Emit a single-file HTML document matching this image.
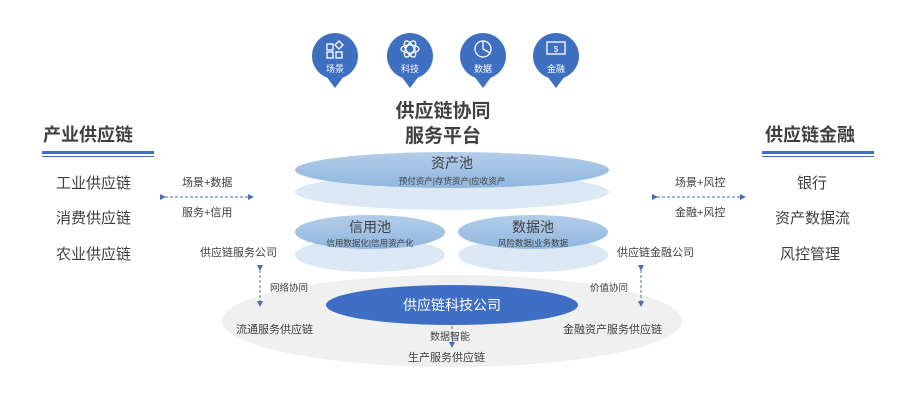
<!DOCTYPE html>
<html><head><meta charset="utf-8"><style>
body{margin:0;width:918px;height:403px;background:#fff;overflow:hidden;font-family:"Liberation Sans","Noto Sans CJK SC",sans-serif;}
svg text{font-family:"Liberation Sans","Noto Sans CJK SC",sans-serif;}
</style></head><body>
<svg width="918" height="403" viewBox="0 0 918 403">
<defs>
<linearGradient id="g1" x1="0" y1="0" x2="0" y2="1"><stop offset="0" stop-color="#b3cde9"/><stop offset="1" stop-color="#90b7e0"/></linearGradient>
<marker id="ar" markerWidth="6" markerHeight="6" refX="5" refY="3" orient="auto"><path d="M0,0 L6,3 L0,6z" fill="#4a6fb5"/></marker>
</defs>
<!-- pins -->
<g fill="#3f6fc0">
<g transform="translate(335,56)"><circle r="23"/><path d="M-9,20 L0,32 L9,20z"/></g>
<g transform="translate(410,56)"><circle r="23"/><path d="M-9,20 L0,32 L9,20z"/></g>
<g transform="translate(483,56)"><circle r="23"/><path d="M-9,20 L0,32 L9,20z"/></g>
<g transform="translate(556,56)"><circle r="23"/><path d="M-9,20 L0,32 L9,20z"/></g>
</g>
<g stroke="#fff" fill="none" stroke-width="1.3">
<rect x="327" y="44" width="6" height="6"/><rect x="327" y="52" width="6" height="6"/><rect x="336" y="52" width="6" height="6"/><path d="M339,41 L343,45 L339,49 L335,45z"/>
<ellipse cx="410" cy="49" rx="9" ry="4"/><ellipse cx="410" cy="49" rx="9" ry="4" transform="rotate(60 410 49)"/><ellipse cx="410" cy="49" rx="9" ry="4" transform="rotate(-60 410 49)"/>
<circle cx="483" cy="49" r="8"/><path d="M483,41 L483,49 L490,53"/>
<rect x="547" y="42" width="18" height="12"/>
</g>
<text x="556" y="52" font-size="8" fill="#fff" text-anchor="middle">$</text>
<g font-size="9" fill="#fff" text-anchor="middle">
<text x="335" y="72">场景</text><text x="410" y="72">科技</text><text x="483" y="72">数据</text><text x="556" y="72">金融</text>
</g>
<g font-size="19" font-weight="bold" fill="#404040" text-anchor="middle">
<text x="443" y="117">供应链协同</text><text x="443" y="142">服务平台</text>
</g>
<!-- pools -->
<ellipse cx="452" cy="192" rx="157" ry="18" fill="#dde8f5"/>
<ellipse cx="452" cy="170" rx="157" ry="18" fill="url(#g1)"/>
<text x="452" y="168" font-size="14" fill="#404040" text-anchor="middle">资产池</text>
<text x="452" y="184" font-size="8.5" fill="#404040" text-anchor="middle">预付资产|存货资产|应收资产</text>
<ellipse cx="452" cy="321" rx="230" ry="46" fill="#f0f0f0"/>
<ellipse cx="370" cy="255" rx="75" ry="17" fill="#dde8f5"/>
<ellipse cx="370" cy="232" rx="75" ry="17" fill="url(#g1)"/>
<ellipse cx="533" cy="255" rx="75" ry="17" fill="#dde8f5"/>
<ellipse cx="533" cy="232" rx="75" ry="17" fill="url(#g1)"/>
<text x="370" y="232" font-size="14" fill="#404040" text-anchor="middle">信用池</text>
<text x="370" y="246" font-size="8.5" fill="#404040" text-anchor="middle">信用数据化|信用资产化</text>
<text x="533" y="232" font-size="14" fill="#404040" text-anchor="middle">数据池</text>
<text x="533" y="246" font-size="8.5" fill="#404040" text-anchor="middle">风险数据|业务数据</text>
<ellipse cx="452" cy="305" rx="126" ry="20" fill="#3f6fc4"/>
<text x="452" y="310" font-size="14" fill="#fff" text-anchor="middle">供应链科技公司</text>
<!-- side headings -->
<g font-size="18" font-weight="bold" fill="#404040">
<text x="43" y="141">产业供应链</text><text x="765" y="141">供应链金融</text>
</g>
<g fill="#3f6fc0"><rect x="42" y="151" width="112" height="3"/><rect x="42" y="156" width="112" height="1"/>
<rect x="762" y="151" width="112" height="3"/><rect x="762" y="156" width="112" height="1"/></g>
<g font-size="15" fill="#404040">
<text x="56" y="188">工业供应链</text><text x="56" y="223">消费供应链</text><text x="56" y="259">农业供应链</text>
<text x="797" y="188">银行</text><text x="775" y="223">资产数据流</text><text x="780" y="259">风控管理</text>
</g>
<g font-size="11" fill="#404040">
<text x="182" y="186">场景+数据</text><text x="182" y="216">服务+信用</text>
<text x="675" y="186">场景+风控</text><text x="675" y="216">金融+风控</text>
<text x="200" y="256">供应链服务公司</text><text x="617" y="256">供应链金融公司</text>
<text x="270" y="291" font-size="9.5">网络协同</text><text x="590" y="291" font-size="9.5">价值协同</text>
<text x="236" y="333">流通服务供应链</text><text x="563" y="333">金融资产服务供应链</text>
<text x="430" y="340" font-size="10">数据智能</text><text x="408" y="361">生产服务供应链</text>
</g>
<g stroke="#4a6fb5" stroke-width="1" stroke-dasharray="3,2" fill="none" marker-end="url(#ar)" marker-start="url(#ar)">
<path d="M165,197 L253,197"/><path d="M657,197 L745,197"/>
<path d="M260,270 L260,306"/><path d="M641,270 L641,306"/>
</g>
<path d="M452,326 L452,347" stroke="#4a6fb5" stroke-dasharray="3,2" marker-end="url(#ar)"/>
</svg>
</body></html>
